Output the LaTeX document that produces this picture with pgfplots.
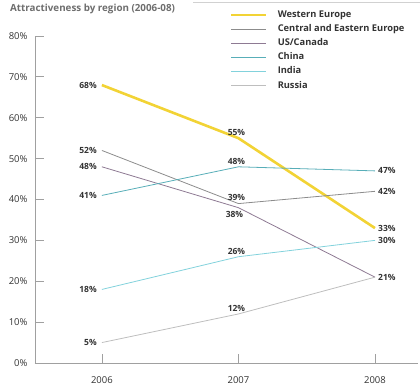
\documentclass[border=0pt]{standalone}
\usepackage{fontspec}
\setmainfont{Open Sans}
\usepackage{pgfplots}
\pgfplotsset{compat=1.18}

\definecolor{weu}{HTML}{F2D335}
\definecolor{cee}{HTML}{8C8C8C}
\definecolor{usc}{HTML}{8E7A93}
\definecolor{chn}{HTML}{58AEB8}
\definecolor{ind}{HTML}{82D2DC}
\definecolor{rus}{HTML}{BEBEBE}
\definecolor{axisgray}{HTML}{A0A0A0}
\definecolor{txt}{HTML}{333333}
\definecolor{titlegray}{HTML}{6E6E6E}

\tikzset{
  lb/.style={inner sep=1pt, font=\bfseries\fontsize{8.5}{9}\selectfont, text=txt},
  lL/.style={lb, anchor=east, xshift=-4pt},
  lT/.style={lb, anchor=south, xshift=-2pt, yshift=1pt},
  lR/.style={lb, anchor=west, xshift=2pt},
  lB/.style={lb, anchor=north, xshift=-4pt, yshift=-2pt},
}

\begin{document}
\begin{tikzpicture}
\path[use as bounding box] (0pt,0pt) rectangle (420pt,391pt);
\draw[black!18, line width=0.6pt] (193pt,388.5pt) -- (420pt,388.5pt);
\node[anchor=north west, inner sep=0pt, font=\bfseries\fontsize{9.8}{11}\selectfont, text=titlegray] at (10pt,387pt) {Attractiveness by region (2006-08)};
\begin{axis}[
  at={(35pt,28pt)}, anchor=south west,
  scale only axis, width=383pt, height=327pt,
  xmin=-0.49, xmax=2.315, ymin=0, ymax=80,
  axis x line=bottom, axis y line=left,
  axis line style={-, axisgray, line width=0.8pt},
  tick style={axisgray, line width=0.8pt},
  tick align=inside, major tick length=9pt,
  xtick={0,1,2}, xticklabels={2006,2007,2008},
  ytick={0,10,...,80},
  yticklabel={\pgfmathprintnumber{\tick}\%},
  /pgf/number format/assume math mode=true,
  tick label style={font=\fontsize{9.5}{10}\selectfont, text=txt},
  xticklabel style={yshift=-10pt},
  yticklabel style={xshift=-4pt},
  legend style={at={(0.509,1.083)}, anchor=north west, draw=none, fill=none,
    font=\bfseries\fontsize{9.3}{10}\selectfont, text=txt, row sep=1.5pt,
    inner sep=0pt, cells={anchor=west},
    /tikz/every odd column/.append style={column sep=8pt}},
  legend image code/.code={\draw[#1] (0pt,0pt) -- (35pt,0pt);},
  clip=false, no markers,
]
\addplot[weu, line width=2.6pt] coordinates {(0,68) (1,55) (2,33)};
\addlegendentry{Western Europe}
\addplot[cee, line width=0.8pt] coordinates {(0,52) (1,39) (2,42)};
\addlegendentry{Central and Eastern Europe}
\addplot[usc, line width=0.8pt] coordinates {(0,48) (1,38) (2,21)};
\addlegendentry{US/Canada}
\addplot[chn, line width=0.8pt] coordinates {(0,41) (1,48) (2,47)};
\addlegendentry{China}
\addplot[ind, line width=0.8pt] coordinates {(0,18) (1,26) (2,30)};
\addlegendentry{India}
\addplot[rus, line width=0.8pt] coordinates {(0,5) (1,12) (2,21)};
\addlegendentry{Russia}

\node[lL] at (axis cs:0,68) {68\%};
\node[lL] at (axis cs:0,52) {52\%};
\node[lL] at (axis cs:0,48) {48\%};
\node[lL] at (axis cs:0,41) {41\%};
\node[lL] at (axis cs:0,18) {18\%};
\node[lL] at (axis cs:0,5) {5\%};
\node[lT] at (axis cs:1,55) {55\%};
\node[lT] at (axis cs:1,48) {48\%};
\node[lT, yshift=1pt] at (axis cs:1,39) {39\%};
\node[lB] at (axis cs:1,38) {38\%};
\node[lT] at (axis cs:1,26) {26\%};
\node[lT] at (axis cs:1,12) {12\%};
\node[lR] at (axis cs:2,47) {47\%};
\node[lR] at (axis cs:2,42) {42\%};
\node[lR] at (axis cs:2,33) {33\%};
\node[lR] at (axis cs:2,30) {30\%};
\node[lR] at (axis cs:2,21) {21\%};
\end{axis}
\end{tikzpicture}
\end{document}
